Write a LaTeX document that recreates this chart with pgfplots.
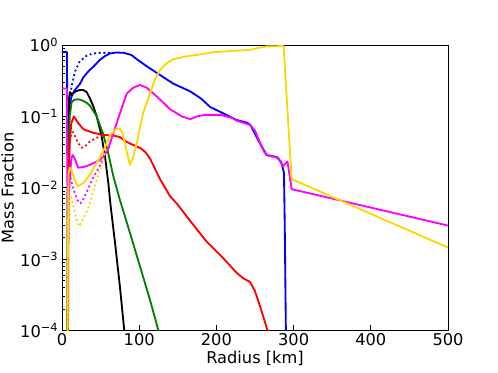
\documentclass[border=0pt]{standalone}
\usepackage{fontspec}
\setmainfont{DejaVu Sans}
\usepackage{pgfplots}
\pgfplotsset{compat=1.18}
\definecolor{mblue}{RGB}{0,0,255}
\definecolor{mmag}{RGB}{255,0,255}
\definecolor{mgold}{RGB}{255,215,0}
\definecolor{mred}{RGB}{255,0,0}
\definecolor{mgreen}{RGB}{0,128,0}

\begin{document}
\begin{tikzpicture}
\path[use as bounding box] (-57.3pt,-38.8pt) rectangle (403.2pt,305.6pt);
\begin{axis}[
  at={(0,0)}, anchor=south west,
  scale only axis,
  width=357pt, height=264pt,
  ymode=log,
  xmin=0, xmax=500,
  ymin=1e-4, ymax=1,
  xtick={0,100,200,300,400,500},
  ytick={1e-4,1e-3,1e-2,1e-1,1},
  yticklabels={10\textsuperscript{−4},10\textsuperscript{−3},10\textsuperscript{−2},10\textsuperscript{−1},10\textsuperscript{0}},
  tick pos=left,
  tick align=inside,
  major tick length=5pt,
  minor tick length=2.8pt,
  every tick/.style={black, line width=0.7pt},
  axis line style={line width=0.8pt},
  /pgf/number format/assume math mode=true,
  tick label style={font=\fontsize{15}{17}\selectfont},
  label style={font=\fontsize{15}{17}\selectfont},
  xticklabel style={yshift=1pt},
  xlabel={Radius [km]},
  ylabel={Mass Fraction},
  xlabel style={yshift=2pt},
  ylabel style={yshift=-1pt},
  every axis plot/.append style={line width=1.7pt, line join=round},
  clip=true,
]
% blue solid
\addplot[mblue] coordinates {
(0,0.794) (6.5,0.794) (7,0.0288) (8,0.0631) (9.5,0.138) (12.5,0.191) (16,0.229)
(23,0.282) (28,0.355) (35,0.437) (42,0.513) (49,0.617) (55,0.692) (62,0.759)
(70,0.785) (80,0.776) (90,0.724) (97,0.631) (110,0.501) (127,0.380) (144,0.288)
(166,0.224) (180,0.178) (192,0.135) (209,0.110) (226,0.0891) (240,0.0813)
(244,0.0759) (256,0.0427) (265,0.0288) (278,0.0269) (284,0.0229) (287.5,0.0162)
(288.5,0.00316) (289.5,0.000316) (290.5,3.16e-5)
};
% blue dotted
\addplot[mblue, dash pattern=on 1.7pt off 2.6pt] coordinates {
(7.5,0.0251) (8.5,0.1) (10,0.170) (12.5,0.263) (17,0.427) (23,0.589) (32,0.708)
(40,0.759) (49,0.776) (62,0.776)
};
% black
\addplot[black] coordinates {
(6.8,1e-5) (7.5,0.0316) (9,0.178) (10.5,0.219) (12.5,0.1995) (14,0.209) (18,0.224)
(23,0.234) (27.6,0.234) (32,0.219) (36.3,0.178) (41,0.135) (45,0.1) (51.4,0.0525)
(55.7,0.0275) (60,0.0117) (63,0.00562) (68.7,0.0017) (75,4.17e-4) (80.7,1e-4)
(82,7.08e-5)
};
% green
\addplot[mgreen] coordinates {
(7,1e-5) (8,0.01) (10,0.1) (12.5,0.158) (16,0.170) (21,0.174) (27,0.166) (32,0.155)
(36.3,0.141) (45,0.1) (53.5,0.0562) (60,0.0302) (66.5,0.0145) (75,0.00676)
(88,0.00234) (101,7.94e-4) (114,2.69e-4) (124.7,1.02e-4) (126,7.94e-5)
};
% red solid
\addplot[mred] coordinates {
(7.5,1e-5) (8.5,0.01) (10,0.0398) (12,0.0794) (15.5,0.1) (20,0.0832) (27.6,0.0661)
(40.5,0.0589) (53.5,0.055) (66.5,0.0537) (75,0.0513) (84,0.0437) (92,0.0398)
(101,0.0363) (108,0.0316) (114,0.0257) (127,0.0132) (140,0.00759) (148.6,0.00603)
(160,0.00417) (174.5,0.00263) (187,0.00178) (200,0.00129) (210,0.001)
(226,6.46e-4) (235,5.37e-4) (243.5,4.79e-4) (250,3.55e-4) (256.5,2.19e-4)
(262,1.41e-4) (267,9.33e-5) (269,7.08e-5)
};
% red dotted
\addplot[mred, dash pattern=on 1.7pt off 2.6pt] coordinates {
(7.5,1e-5) (8.5,0.01) (10,0.0468) (12,0.0562) (14.6,0.0603) (17,0.0525) (20,0.0437)
(25.5,0.0363) (30,0.038) (34,0.0427) (40,0.0468) (45,0.0501) (52,0.0537) (58,0.055)
};
% magenta solid
\addplot[mmag] coordinates {
(0,0.245) (6.5,0.245) (7,0.0126) (8,0.00501) (10,0.0126) (12,0.0251) (13.8,0.0288)
(16,0.0263) (21,0.0191) (28,0.0195) (36,0.0209) (49,0.0245) (54,0.0275) (60,0.0355)
(66.5,0.0575) (75,0.110) (84,0.209) (92,0.251) (101,0.275) (110,0.251) (122.6,0.191)
(140,0.126) (155,0.1) (166,0.0912) (175,0.1) (185,0.105) (205,0.105) (220,0.0955)
(226,0.0871) (243.5,0.0759) (250,0.0631) (256.5,0.0427) (262,0.0316) (267,0.0282)
(280,0.0263) (286,0.0200) (292,0.0234) (297.5,0.00955) (500,0.00295)
};
% magenta dotted
\addplot[mmag, dash pattern=on 1.7pt off 2.6pt] coordinates {
(7,1e-5) (8,0.00316) (9,0.0141) (10,0.0158) (13,0.0112) (16.4,0.00851) (20,0.00676)
(23,0.00603) (26,0.00631) (31.5,0.00851) (40,0.0135) (48.8,0.0200) (55,0.0288)
(58,0.0331)
};
% gold solid
\addplot[mgold] coordinates {
(7,1e-5) (7.5,7.94e-4) (8.5,0.0158) (10,0.0191) (12.5,0.0178) (16,0.0132) (21,0.0105)
(28,0.0117) (36,0.0151) (45,0.0224) (53,0.0316) (62,0.0537) (70,0.0661) (75,0.0676)
(79,0.0562) (83,0.0355) (88,0.0209) (92,0.0263) (97,0.0427) (105,0.110) (114,0.209)
(120,0.324) (127,0.447) (135,0.550) (144,0.631) (161,0.692) (180,0.741) (196,0.794)
(217,0.822) (243,0.851) (255,0.912) (265,0.955) (287,0.966) (297.5,0.0132)
(500,0.00145)
};
% gold dotted
\addplot[mgold, dash pattern=on 1.7pt off 2.6pt] coordinates {
(6.8,1e-5) (7.5,6.31e-4) (8.5,0.00501) (10,0.00794) (12,0.00759) (14.5,0.00562)
(18,0.0038) (22,0.00288) (25,0.00316) (29,0.00398) (33.7,0.00501) (40,0.00851)
(46.6,0.0145) (53,0.0245) (58,0.038) (62,0.0525)
};
\end{axis}
\end{tikzpicture}
\end{document}
